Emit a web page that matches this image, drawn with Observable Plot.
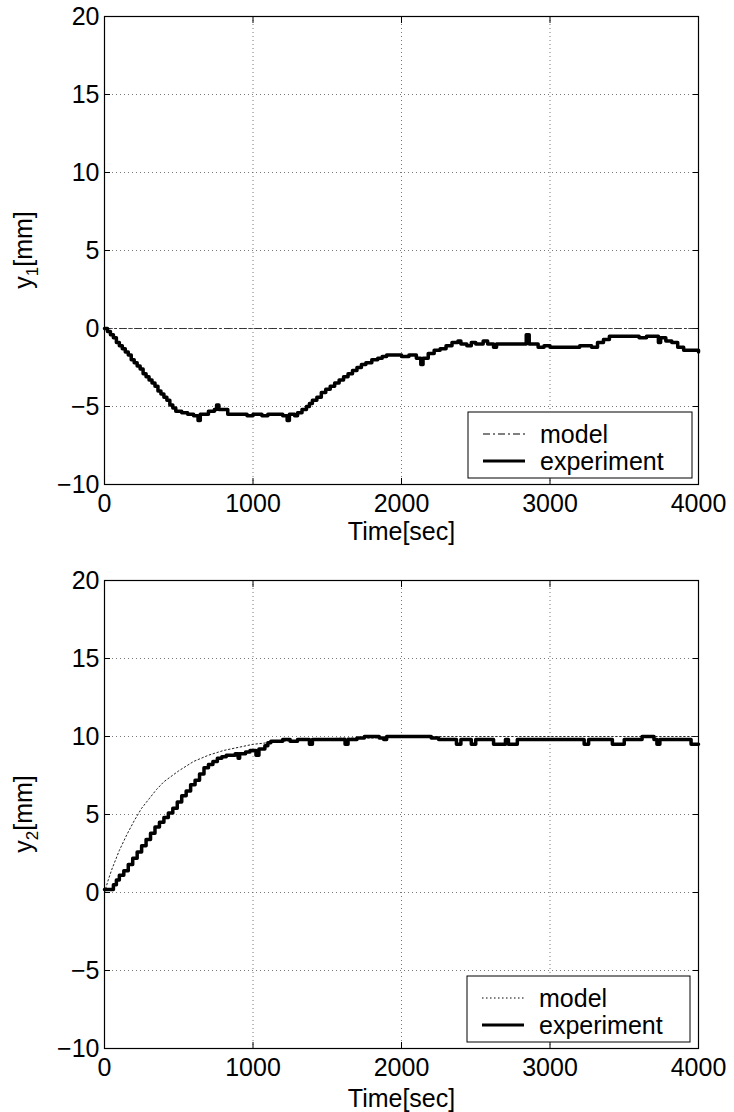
<!DOCTYPE html>
<html><head><meta charset="utf-8">
<script src="https://cdn.jsdelivr.net/npm/d3@7"></script>
<script src="https://cdn.jsdelivr.net/npm/@observablehq/plot@0.6"></script>
<style>
body{margin:0;background:#fff;font-family:"Liberation Sans",Arial,sans-serif;}
#chart svg{display:block;}
</style></head><body><div id="chart"></div><script>
// ---- data ----
const xTicks = [0, 1000, 2000, 3000, 4000];
const yTicks = [-10, -5, 0, 5, 10, 15, 20];

// panel 1 : y1 experiment
const t1Exp = [0,20,40,60,80,100,120,140,160,180,200,220,240,260,280,300,320,340,360,380,400,420,440,460,480,520,560,600,630,645,680,700,740,755,770,800,830,900,960,1000,1060,1100,1150,1200,1230,1245,1280,1300,1330,1360,1380,1400,1430,1460,1490,1520,1550,1580,1610,1640,1670,1700,1730,1760,1800,1840,1870,1900,1960,2000,2050,2100,2130,2145,2180,2220,2260,2300,2340,2380,2400,2440,2470,2500,2550,2580,2620,2640,2700,2760,2800,2840,2860,2900,2920,2960,3000,3100,3200,3280,3320,3360,3400,3500,3560,3600,3650,3700,3730,3745,3780,3820,3860,3900,3950,4000];
const y1Exp = [0,-0.2,-0.4,-0.6,-0.9,-1.1,-1.3,-1.5,-1.7,-2.0,-2.2,-2.4,-2.6,-2.9,-3.1,-3.3,-3.5,-3.7,-4.0,-4.2,-4.4,-4.6,-4.9,-5.1,-5.3,-5.4,-5.5,-5.6,-5.9,-5.5,-5.5,-5.3,-5.2,-4.9,-5.2,-5.2,-5.5,-5.5,-5.6,-5.5,-5.6,-5.5,-5.5,-5.6,-5.9,-5.5,-5.6,-5.4,-5.2,-5.0,-4.8,-4.6,-4.4,-4.1,-3.9,-3.7,-3.5,-3.3,-3.1,-2.9,-2.7,-2.5,-2.3,-2.2,-2.0,-1.9,-1.8,-1.7,-1.7,-1.8,-1.7,-1.9,-2.3,-1.9,-1.6,-1.4,-1.3,-1.1,-0.9,-0.8,-1.0,-1.1,-0.9,-1.0,-0.8,-1.0,-1.2,-1.0,-1.0,-1.0,-1.0,-0.4,-1.0,-1.0,-1.2,-1.1,-1.2,-1.2,-1.1,-1.2,-0.9,-0.7,-0.5,-0.5,-0.5,-0.6,-0.5,-0.5,-0.9,-0.6,-0.8,-0.9,-1.2,-1.4,-1.4,-1.5];
// panel 1 : y1 model
const t1Mod = [0, 4000];
const y1Mod = [0, 0];

// panel 2 : y2 experiment
const t2Exp = [0,40,60,80,100,130,160,190,220,250,280,310,340,370,400,430,460,490,520,550,580,610,640,670,700,730,760,790,820,850,880,900,910,950,980,1000,1020,1040,1080,1100,1120,1150,1200,1250,1300,1350,1380,1400,1450,1500,1550,1600,1620,1640,1700,1750,1800,1850,1880,1900,1950,2000,2100,2150,2200,2250,2350,2370,2400,2450,2470,2500,2600,2620,2700,2720,2780,2800,2900,3000,3100,3200,3230,3260,3300,3400,3420,3500,3600,3620,3700,3720,3740,3800,3900,3950,4000];
const y2Exp = [0.2,0.2,0.5,0.8,1.1,1.4,1.8,2.2,2.6,3.0,3.4,3.8,4.2,4.5,4.8,5.1,5.4,5.8,6.2,6.5,6.9,7.2,7.6,8.0,8.2,8.4,8.6,8.7,8.8,8.8,8.9,8.6,8.9,9.0,9.1,9.1,8.8,9.2,9.4,9.6,9.7,9.7,9.8,9.7,9.8,9.8,9.5,9.8,9.8,9.8,9.8,9.8,9.5,9.8,9.9,10.0,10.0,9.9,9.8,10.0,10.0,10.0,10.0,10.0,9.9,9.8,9.8,9.5,9.8,9.8,9.5,9.8,9.8,9.5,9.8,9.5,9.8,9.8,9.8,9.8,9.8,9.8,9.5,9.8,9.8,9.8,9.5,9.8,9.8,10.0,9.8,9.5,9.8,9.8,9.8,9.5,9.5];
// panel 2 : y2 model
const t2Mod = [0,25,50,75,100,150,200,250,300,350,400,500,600,700,800,900,1000,1100,1200,1400,1600,1800,2000,3000,4000];
const y2Mod = [0,0.8,1.5,2.1,2.7,3.7,4.6,5.4,6.0,6.6,7.1,7.8,8.4,8.8,9.1,9.3,9.5,9.6,9.7,9.8,9.9,9.9,10.0,10.0,10.0];

const legendLabels = ["model", "experiment"];
const xLabel = "Time[sec]";

// ---- drawing ----
const FONT = '"Liberation Sans", Arial, Helvetica, sans-serif';
const fmtY = d3.format("d");

function panel(cfg) {
  const expData = cfg.tExp.map((t, i) => ({t, v: cfg.yExp[i]}));
  const modData = cfg.tMod.map((t, i) => ({t, v: cfg.yMod[i]}));
  const gridStyle = {stroke: "#555", strokeOpacity: 1, strokeWidth: 0.8, strokeDasharray: "1,3"};
  const svg = Plot.plot({
    width: 734, height: cfg.height,
    marginLeft: 104, marginRight: 36, marginTop: cfg.marginTop, marginBottom: cfg.marginBottom,
    style: {fontFamily: FONT, fontSize: "25px", color: "#000", background: "#fff"},
    x: {domain: [0, 4000]},
    y: {domain: [-10, 20]},
    marks: [
      Plot.gridX(xTicks.slice(1, -1), gridStyle),
      Plot.gridY(yTicks.slice(1, -1), gridStyle),
      Plot.axisX(xTicks, {tickSize: 0, tickPadding: 10, fontSize: 25, label: null, tickFormat: d => String(d)}),
      Plot.axisX(xTicks, {tickSize: 6, dy: -6, text: null, label: null}),
      Plot.axisX(xTicks, {anchor: "top", tickSize: 6, dy: 6, text: null, label: null}),
      Plot.axisY(yTicks, {tickSize: 0, tickPadding: 5, fontSize: 25, label: null, tickFormat: fmtY}),
      Plot.axisY(yTicks, {tickSize: 6, dx: 6, text: null, label: null}),
      Plot.axisY(yTicks, {anchor: "right", tickSize: 6, dx: -6, text: null, label: null}),
      Plot.line(modData, {x: "t", y: "v", stroke: "#222", strokeWidth: cfg.modWidth, strokeDasharray: cfg.modDash}),
      Plot.line(expData, {x: "t", y: "v", curve: "step-after", stroke: "#000", strokeWidth: 3.5}),
      Plot.frame({stroke: "#000", strokeWidth: 1.2}),
      Plot.text([xLabel], {text: d => d, frameAnchor: "bottom", lineAnchor: "middle", dy: cfg.xLabelDy, fontSize: 25, fill: "#000"})
    ]
  });
  const s = d3.select(svg);
  const cy = (cfg.marginTop + cfg.height - cfg.marginBottom) / 2;
  const t = s.append("text")
    .attr("transform", `translate(32,${cy}) rotate(-90)`)
    .attr("text-anchor", "middle")
    .attr("font-family", FONT).attr("font-size", 25).attr("fill", "#000");
  t.append("tspan").text("y");
  t.append("tspan").attr("font-size", 17).attr("dy", 6).text(cfg.sub);
  t.append("tspan").attr("dy", -6).text("[mm]");

  // legend box
  const L = cfg.legend;
  const g = s.append("g").attr("text-anchor", "start");
  g.append("rect").attr("x", L.x).attr("y", L.y).attr("width", L.w).attr("height", L.h)
    .attr("fill", "#fff").attr("stroke", "#000").attr("stroke-width", 1);
  const rows = [
    {label: legendLabels[0], dash: cfg.modDash, w: cfg.modWidth + 0.2, yy: L.y + 22},
    {label: legendLabels[1], dash: null, w: 3, yy: L.y + 49}
  ];
  rows.forEach(r => {
    g.append("line").attr("x1", L.x + 15).attr("x2", L.x + 57).attr("y1", r.yy).attr("y2", r.yy)
      .attr("stroke", "#000").attr("stroke-width", r.w).attr("stroke-dasharray", r.dash);
    g.append("text").attr("x", L.x + 72).attr("y", r.yy).attr("dy", "0.35em")
      .attr("text-anchor", "start")
      .attr("font-family", FONT).attr("font-size", 25).attr("fill", "#000").text(r.label);
  });
  return svg;
}

const chart = document.getElementById("chart");
chart.appendChild(panel({
  tExp: t1Exp, yExp: y1Exp, tMod: t1Mod, yMod: y1Mod, sub: "1",
  modDash: "7,3,2,3", modWidth: 0.9,
  height: 560, marginTop: 16, marginBottom: 76, xLabelDy: 47,
  legend: {x: 468, y: 412, w: 224, h: 66}
}));
chart.appendChild(panel({
  tExp: t2Exp, yExp: y2Exp, tMod: t2Mod, yMod: y2Mod, sub: "2",
  modDash: "1.5,2.5", modWidth: 1,
  height: 552, marginTop: 20, marginBottom: 64, xLabelDy: 50,
  legend: {x: 467, y: 416, w: 223, h: 66}
}));
</script></body></html>
